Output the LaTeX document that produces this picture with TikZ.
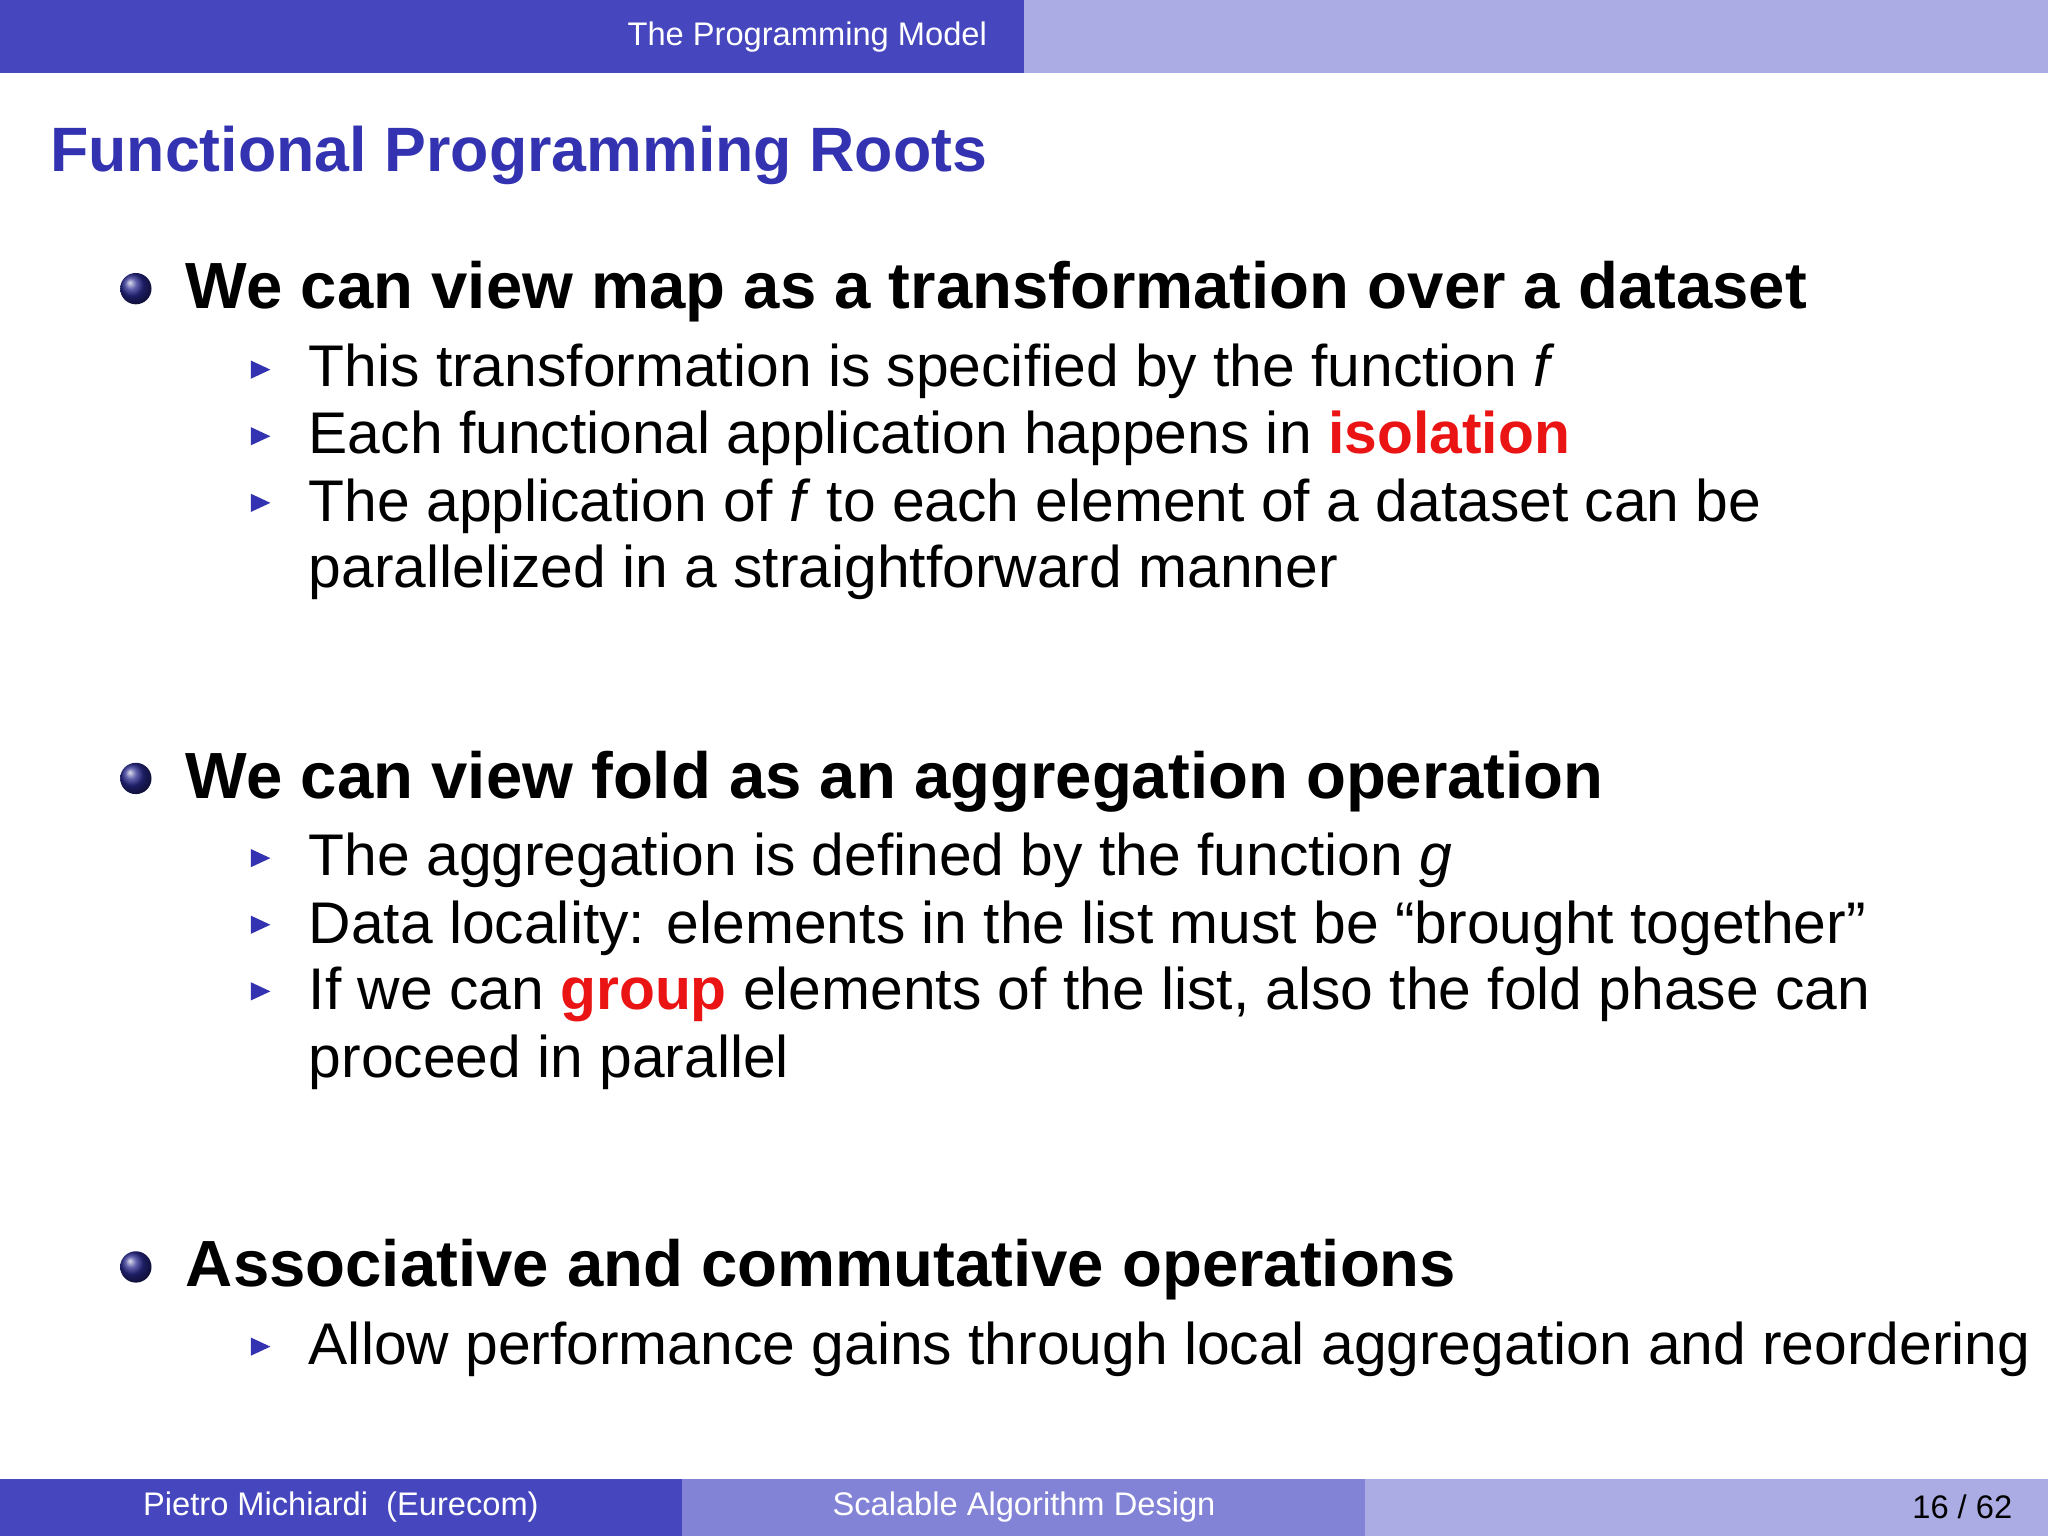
\documentclass[tikz,border=0pt]{standalone}
\usepackage{fontspec}
\setmainfont{Liberation Sans}
\definecolor{dk}{RGB}{70,70,190}
\definecolor{md}{RGB}{130,130,215}
\definecolor{lt}{RGB}{172,172,228}
\definecolor{tt}{RGB}{51,51,178}
\definecolor{rd}{RGB}{235,20,20}
\tikzset{
 hd/.style={anchor=base west,inner sep=0,font=\fontsize{25}{30}\selectfont\bfseries},
 it/.style={anchor=base west,inner sep=0,font=\fontsize{22.5}{27}\selectfont},
 ball/.style={circle,inner sep=0,minimum size=12pt,ball color=tt!80!black},
 tri/.style={fill=tt}
}
\newcommand{\tr}[1]{\fill[tri] (#1) ++(0,-14) -- ++(15,7) -- ++(-15,7) -- cycle;}
\begin{document}
\begin{tikzpicture}[x=0.5pt,y=-0.5pt]
\useasboundingbox (0,0) rectangle (1568,1176);
\fill[white] (0,0) rectangle (1568,1176);
\fill[dk] (0,0) rectangle (784,56);
\fill[lt] (784,0) rectangle (1568,56);
\node[anchor=base east,inner sep=0,text=white,font=\fontsize{12.5}{15}\selectfont] (h) at (756,35) {The Programming Model};
\node[anchor=base west,inner sep=0,text=tt,font=\fontsize{24}{29}\selectfont\bfseries] (t) at (38,131) {Functional Programming Roots};
\node[ball] (b1) at (104,221) {};
\node[hd] (l1) at (142,236) {We can view map as a transformation over a dataset};
\tr{192,290}\node[it] (a1) at (236,296) {This transformation is specified by the function \textit{f}};
\tr{192,341}\node[it] (a2) at (236,347) {Each functional application happens in \textcolor{rd}{\bfseries isolation}};
\tr{192,392}\node[it] (a3) at (236,399) {The application of \textit{f} to each element of a dataset can be};
\node[it] (a4) at (236,450) {parallelized in a straightforward manner};
\node[ball] (b2) at (104,596) {};
\node[hd] (l2) at (142,611) {We can view fold as an aggregation operation};
\tr{192,664}\node[it] (c1) at (236,670) {The aggregation is defined by the function \textit{g}};
\tr{192,715}\node[it] (c2) at (236,722) {Data locality: elements in the list must be “brought together”};
\tr{192,766}\node[it] (c3) at (236,773) {If we can \textcolor{rd}{\bfseries group} elements of the list, also the fold phase can};
\node[it] (c4) at (236,825) {proceed in parallel};
\node[ball] (b3) at (104,970) {};
\node[hd] (l3) at (142,985) {Associative and commutative operations};
\tr{192,1038}\node[it] (d1) at (236,1045) {Allow performance gains through local aggregation and reordering};
\fill[dk] (0,1132) rectangle (522,1176);
\fill[md] (522,1132) rectangle (1045,1176);
\fill[lt] (1045,1132) rectangle (1568,1176);
\node[text=white,inner sep=0,font=\fontsize{12.5}{15}\selectfont] (f1) at (261,1154) {Pietro Michiardi\ \ (Eurecom)};
\node[text=white,inner sep=0,font=\fontsize{12.5}{15}\selectfont] (f2) at (784,1154) {Scalable Algorithm Design};
\node[anchor=east,inner sep=0,font=\fontsize{12.5}{15}\selectfont] (f3) at (1541,1154) {16 / 62};
\end{tikzpicture}
\end{document}
